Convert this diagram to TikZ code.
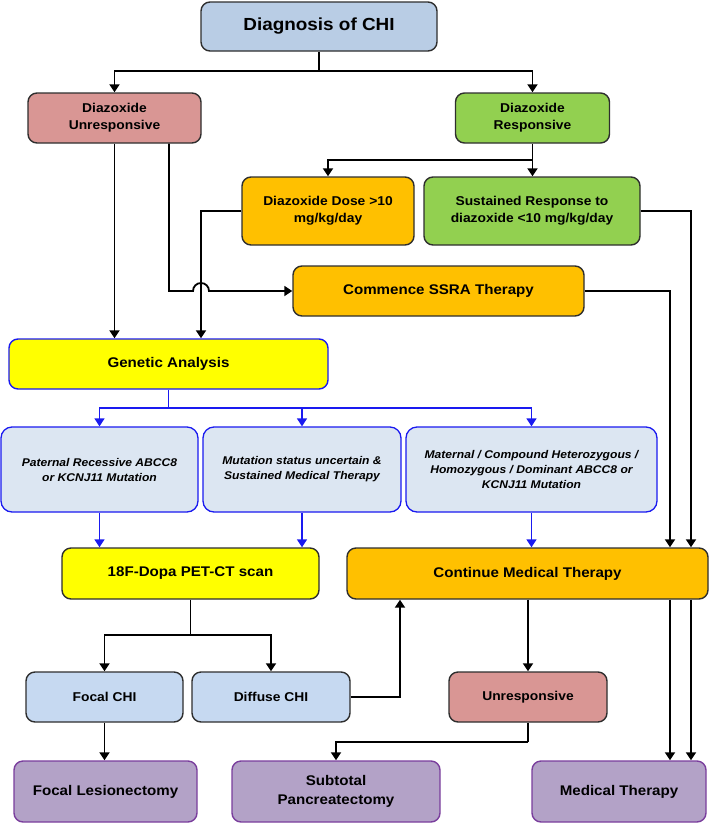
\documentclass[tikz,border=0pt]{standalone}
\usepackage{fontspec}
\setmainfont{Liberation Sans}[FakeStretch=1.08]
\usetikzlibrary{arrows.meta,calc}
\definecolor{cblue}{HTML}{B9CDE5}
\definecolor{cpink}{HTML}{D99694}
\definecolor{cgreen}{HTML}{92D050}
\definecolor{corange}{HTML}{FFC000}
\definecolor{cyellow}{HTML}{FFFF00}
\definecolor{cgene}{HTML}{DCE6F2}
\definecolor{cfocal}{HTML}{C6D9F1}
\definecolor{cpurple}{HTML}{B3A2C7}
\definecolor{cpurpleb}{HTML}{7A3E9D}
\definecolor{lblue}{HTML}{1A1AF0}
\definecolor{bord}{HTML}{2E2E2E}
\tikzset{
  box/.style={draw=bord, line width=1.4pt, rounded corners=9pt, align=center,
    font=\bfseries, inner sep=2pt},
  genebox/.style={draw=lblue, line width=1.3pt, rounded corners=11pt, fill=cgene, align=center,
    font=\fontsize{11.2}{15}\selectfont\bfseries\itshape, inner sep=2pt},
  purplebox/.style={box, draw=cpurpleb, fill=cpurple, font=\fontsize{14}{18.5}\selectfont\bfseries},
  arr/.style={line width=1.8pt, -{Triangle[width=10pt,length=8pt]}},
  barr/.style={line width=1.5pt, draw=lblue, -{Triangle[width=10pt,length=8pt]}, lblue},
  ln/.style={line width=1.8pt},
  med/.style={font=\fontsize{12.8}{16.7}\selectfont\bfseries},
  big/.style={font=\fontsize{14}{18}\selectfont\bfseries}
}
\begin{document}
\begin{tikzpicture}[x=1pt,y=-1pt]
\useasboundingbox (0,0) rectangle (709,823);
% nodes
\node[box, fill=cblue, minimum width=236pt, minimum height=49pt, font=\fontsize{17.5}{20}\selectfont\bfseries] (diag) at (319,26.5) {Diagnosis of CHI};
\node[box, med, fill=cpink, minimum width=173pt, minimum height=50pt] (unres) at (114.5,118) {Diazoxide\\Unresponsive};
\node[box, med, fill=cgreen, minimum width=154pt, minimum height=50pt] (resp) at (532.5,118) {Diazoxide\\Responsive};
\node[box, med, fill=corange, minimum width=172pt, minimum height=68pt] (dose) at (328,211) {Diazoxide Dose >10\\mg/kg/day};
\node[box, med, fill=cgreen, minimum width=216pt, minimum height=68pt] (sust) at (532,211) {Sustained Response to\\diazoxide <10 mg/kg/day};
\node[box, big, fill=corange, minimum width=291pt, minimum height=50pt] (ssra) at (438.5,291) {Commence SSRA Therapy};
\node[box, big, draw=lblue, fill=cyellow, minimum width=319pt, minimum height=50pt] (gen) at (168.5,364) {Genetic Analysis};
\node[genebox, minimum width=197pt, minimum height=85pt] (pat) at (99.5,469.5) {Paternal Recessive ABCC8\\or KCNJ11 Mutation};
\node[genebox, minimum width=198pt, minimum height=85pt] (mut) at (302,469.5) {Mutation status uncertain \&\\Sustained Medical Therapy};
\node[genebox, minimum width=251pt, minimum height=85pt] (mat) at (531.5,469.5) {Maternal / Compound Heterozygous /\\Homozygous / Dominant ABCC8 or\\KCNJ11 Mutation};
\node[box, big, fill=cyellow, minimum width=257pt, minimum height=51pt] (pet) at (190.5,573.5) {18F-Dopa PET-CT scan};
\node[box, big, fill=corange, minimum width=361pt, minimum height=51pt] (cont) at (527.5,573.5) {Continue Medical Therapy};
\node[box, med, fill=cfocal, minimum width=157pt, minimum height=50pt] (focal) at (104.5,697) {Focal CHI};
\node[box, med, fill=cfocal, minimum width=158pt, minimum height=50pt] (diff) at (271,697) {Diffuse CHI};
\node[box, med, fill=cpink, minimum width=158pt, minimum height=50pt] (unr2) at (528,697) {Unresponsive};
\node[purplebox, minimum width=183pt, minimum height=61pt] (lesi) at (105.5,791.5) {Focal Lesionectomy};
\node[purplebox, minimum width=208pt, minimum height=61pt] (sub) at (336,791.5) {Subtotal\\Pancreatectomy};
\node[purplebox, minimum width=174pt, minimum height=61pt] (med) at (619,791.5) {Medical Therapy};
% helper coordinates
\coordinate (j1) at (319,71);
\coordinate (j2) at (532.5,160);
\coordinate (x169) at (169,0);
\coordinate (x201) at (201,0);
\coordinate (x670) at (670,0);
\coordinate (x691) at (691,0);
\coordinate (j3) at (168.5,408);
\coordinate (j4) at (190.5,635);
\coordinate (x400) at (400,0);
\coordinate (j5) at (528,742);
% connectors
\draw[ln] (diag.south) -- (j1);
\draw[arr] (j1) -| (unres.north);
\draw[arr] (j1) -| (resp.north);
\draw[arr] (resp.south) -- (resp.south |- sust.north);
\draw[arr] (j2) -| (dose.north);
\draw[arr] (dose.west) -| (x201 |- gen.north);
\draw[arr] (unres.south) -- (unres.south |- gen.north);
\draw[arr] (x169 |- unres.south) -- (169,291) -- (193,291)
   arc[start angle=180,end angle=0,radius=8pt] -- (ssra.west);
\draw[arr] (ssra.east) -| (x670 |- cont.north);
\draw[arr] (sust.east) -| (x691 |- cont.north);
\draw[barr] (gen.south) -- (j3) -| (pat.north);
\draw[barr] (j3) -| (mut.north);
\draw[barr] (j3) -| (mat.north);
\draw[barr] (pat.south) -- (pat.south |- pet.north);
\draw[barr] (mut.south) -- (mut.south |- pet.north);
\draw[barr] (mat.south) -- (mat.south |- cont.north);
\draw[ln] (pet.south) -- (j4);
\draw[arr] (j4) -| (focal.north);
\draw[arr] (j4) -| (diff.north);
\draw[arr] (focal.south) -- (focal.south |- lesi.north);
\draw[arr] (diff.east) -| (x400 |- cont.south);
\draw[arr] (unr2.north |- cont.south) -- (unr2.north);
\draw[ln] (unr2.south) -- (j5);
\draw[arr] (j5) -| (sub.north);
\draw[arr] (x670 |- cont.south) -- (x670 |- med.north);
\draw[arr] (x691 |- cont.south) -- (x691 |- med.north);
\end{tikzpicture}
\end{document}
